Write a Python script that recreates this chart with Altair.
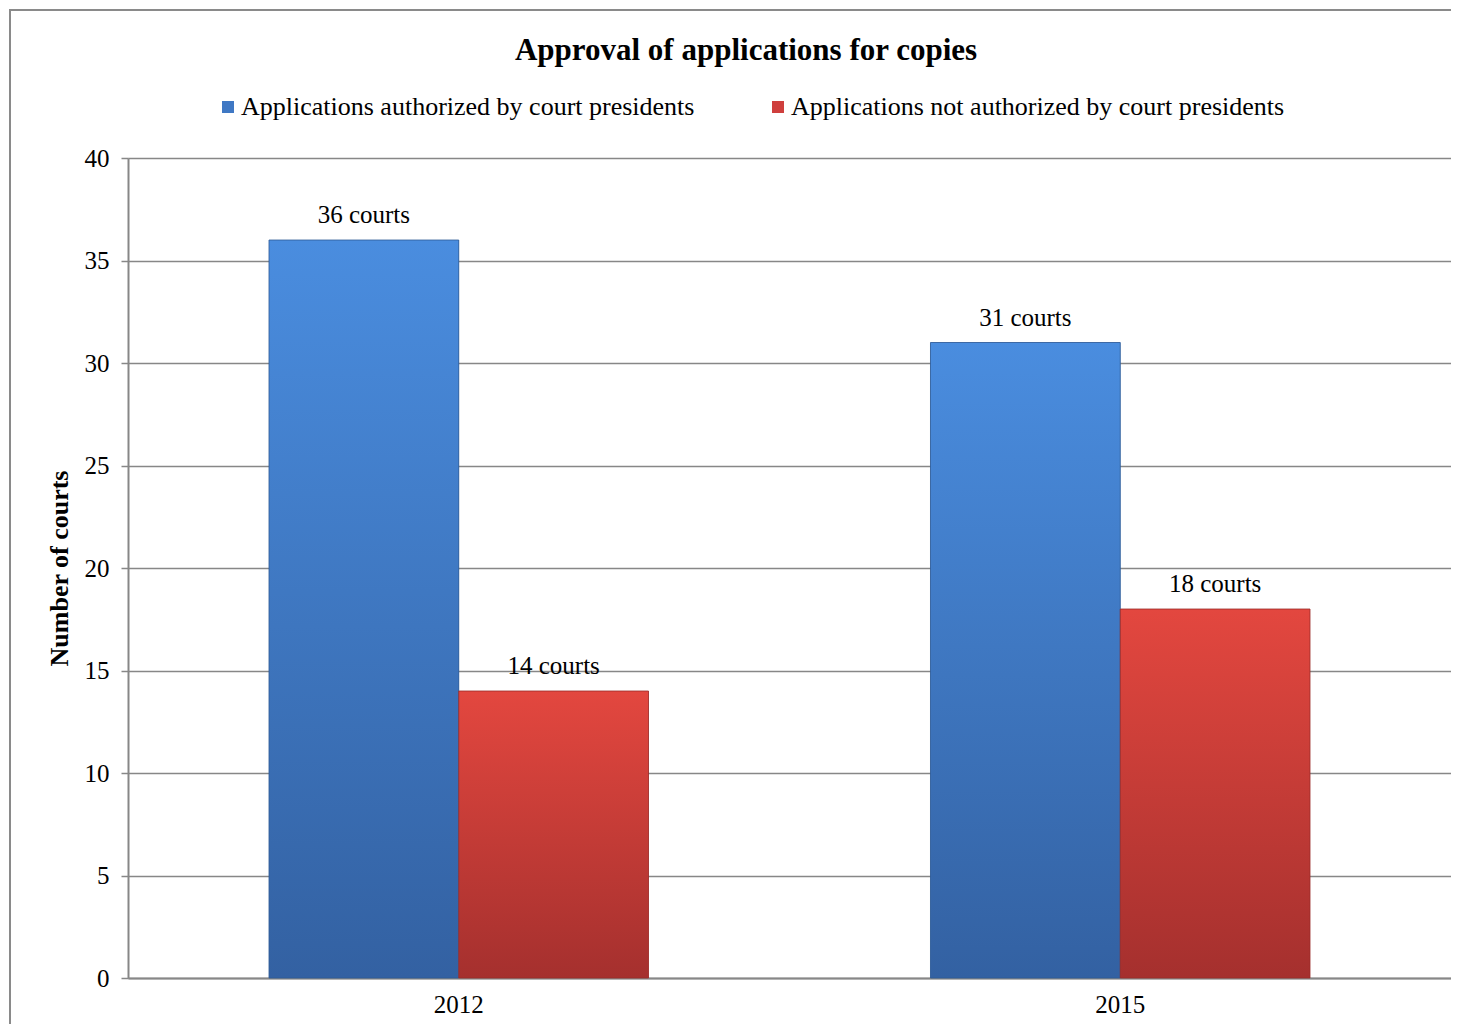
import altair as alt
import pandas as pd

years = ["2012", "2015"]
series = [
    "Applications authorized by court presidents",
    "Applications not authorized by court presidents",
]
authorized = [36, 31]
not_authorized = [14, 18]
y_ticks = [0, 5, 10, 15, 20, 25, 30, 35, 40]
chart_title = "Approval of applications for copies"

rows = []
for i, yr in enumerate(years):
    rows.append({"year": yr, "series": series[0], "value": authorized[i],
                 "label": f"{authorized[i]} courts"})
    rows.append({"year": yr, "series": series[1], "value": not_authorized[i],
                 "label": f"{not_authorized[i]} courts"})
df = pd.DataFrame(rows)

FONT = "Liberation Serif"
GRID = "#878787"

x_enc = alt.X(
    "year:N",
    scale=alt.Scale(domain=years, paddingInner=0, paddingOuter=0),
    axis=alt.Axis(title=None, labelAngle=0, ticks=False, labelFontSize=25,
                  labelFont=FONT, labelColor="black", labelPadding=14,
                  domainColor=GRID, domainWidth=2),
)
xo_enc = alt.XOffset(
    "series:N",
    scale=alt.Scale(domain=series, paddingInner=0, paddingOuter=0.743),
)
y_enc = alt.Y(
    "value:Q",
    scale=alt.Scale(domain=[0, 40], nice=False),
    axis=alt.Axis(values=y_ticks, title="Number of courts", titleFont=FONT,
                  titleFontSize=26, titleFontWeight="bold", titleColor="black",
                  titlePadding=12, labelFont=FONT, labelFontSize=25,
                  labelColor="black", labelPadding=12, tickSize=7,
                  tickColor=GRID, tickWidth=1.5, domainColor=GRID,
                  domainWidth=2, gridColor=GRID, gridWidth=1.5),
)

base = alt.Chart(df).encode(x=x_enc, xOffset=xo_enc, y=y_enc)

legend_bars = base.mark_bar().encode(
    color=alt.Color(
        "series:N",
        scale=alt.Scale(domain=series, range=["#3f78c4", "#cf3f3d"]),
        legend=alt.Legend(title=None, orient="none", legendX=87, legendY=-64,
                          direction="horizontal", symbolType="square",
                          symbolSize=144, symbolStrokeWidth=0,
                          labelFont=FONT, labelFontSize=26, labelColor="black",
                          labelLimit=0, labelOffset=0, columnPadding=70),
    )
)

blue_grad = alt.Gradient(
    gradient="linear", x1=0, x2=0, y1=0, y2=1,
    stops=[alt.GradientStop(offset=0, color="#4a8ddf"),
           alt.GradientStop(offset=1, color="#3361a2")],
)
red_grad = alt.Gradient(
    gradient="linear", x1=0, x2=0, y1=0, y2=1,
    stops=[alt.GradientStop(offset=0, color="#e3473f"),
           alt.GradientStop(offset=1, color="#a5302e")],
)

blue_bars = base.transform_filter(alt.datum.series == series[0]).mark_bar(
    fill=blue_grad, stroke="#2e5a96", strokeWidth=0.8)
red_bars = base.transform_filter(alt.datum.series == series[1]).mark_bar(
    fill=red_grad, stroke="#9a2c2a", strokeWidth=0.8)

labels = base.mark_text(baseline="bottom", dy=-12, font=FONT, fontSize=25,
                        color="black").encode(text="label:N")

frame_df = pd.DataFrame({"k": [0]})
border = alt.Chart(frame_df).mark_rect(fill=None, stroke="#8a8a8a",
                                       strokeWidth=2).encode(
    x=alt.value(-118), x2=alt.value(1400), y=alt.value(-148), y2=alt.value(1000)
)
title = alt.Chart(pd.DataFrame({"t": [chart_title]})).mark_text(
    font=FONT, fontSize=31, fontWeight="bold", color="black",
    align="center", baseline="middle").encode(
    text="t:N", x=alt.value(618), y=alt.value(-107)
)

chart = alt.layer(border, legend_bars, blue_bars, red_bars, labels, title).properties(
    width=1323, height=820,
    autosize=alt.AutoSizeParams(type="none"),
    padding={"left": 120, "top": 150, "right": 0, "bottom": 46},
).configure_view(stroke=None).configure(background="white")

chart.save("out.html", embed_options={"renderer": "svg", "actions": False})
